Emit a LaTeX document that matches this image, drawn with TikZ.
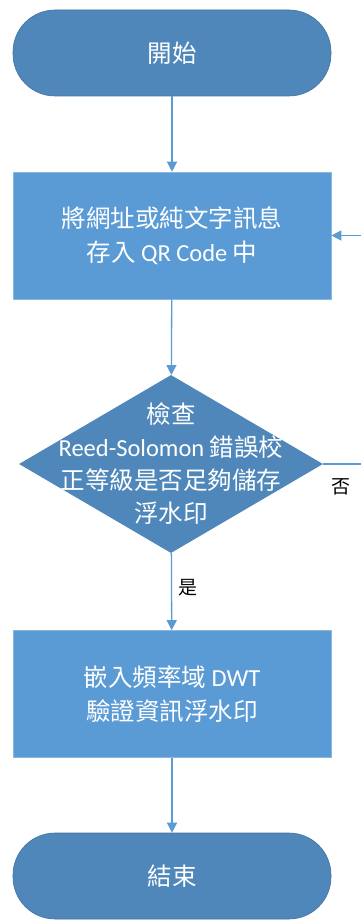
\documentclass[tikz,border=0pt]{standalone}
\usepackage{fontspec}
\setmainfont{Carlito}
\newfontfamily\cjk{Noto Sans CJK TC}
\usetikzlibrary{shapes.geometric,arrows.meta}
\definecolor{termblue}{HTML}{4F87BA}
\definecolor{boxblue}{HTML}{5A9AD5}
\definecolor{linkblue}{HTML}{5B9BD5}
\definecolor{edgeblue}{HTML}{8AB8E2}
\tikzset{
  term/.style={rectangle, rounded corners=42pt, fill=termblue, draw=termblue!85!black, line width=0.6pt,
    minimum width=318pt, minimum height=86pt, inner sep=0pt, text=white, font=\fontsize{24.5}{34}\selectfont\cjk},
  procbox/.style={rectangle, fill=boxblue, draw=edgeblue, line width=0.6pt,
    minimum width=318pt, minimum height=127pt, inner sep=0pt, text=white, align=center,
    font=\fontsize{24.5}{34}\selectfont},
  decision/.style={diamond, fill=termblue, draw=none, minimum width=304pt, minimum height=178pt, inner sep=0pt},
  dtext/.style={text=white, align=center, font=\fontsize{24.5}{33}\selectfont, inner sep=0pt},
  link/.style={draw=linkblue, line width=1.3pt, -{Triangle[width=10pt,length=10pt]}},
  lbl/.style={text=black, font=\fontsize{19}{20}\selectfont\cjk, inner sep=0pt},
}
\begin{document}
\begin{tikzpicture}[x=1pt,y=-1pt]
\useasboundingbox (0,0) rectangle (361,920);
\node[term] (start) at (172,53) {開始};
\node[procbox] (store) at (172,235.5) {{\cjk 將網址或純文字訊息}\\{\cjk 存入} QR Code {\cjk 中}};
\node[decision] (check) at (171,464) {};
\node[dtext] (checktext) at (171,464) {{\cjk 檢查}\\Reed-Solomon {\cjk 錯誤校}\\{\cjk 正等級是否足夠儲存}\\{\cjk 浮水印}};
\node[procbox] (embed) at (172,694) {{\cjk 嵌入頻率域} DWT\\{\cjk 驗證資訊浮水印}};
\node[term] (finish) at (172,876) {結束};
\coordinate (loopcorner) at (362,464);
\draw[link] (start) -- (store);
\draw[link] (store) -- (check);
\draw[link] (check) -- (embed);
\draw[link] (embed) -- (finish);
\draw[link] (check.east) -- (loopcorner) |- (store.east);
\node[lbl] (no) at (341,487) {否};
\node[lbl] (yes) at (188,588) {是};
\end{tikzpicture}
\end{document}
